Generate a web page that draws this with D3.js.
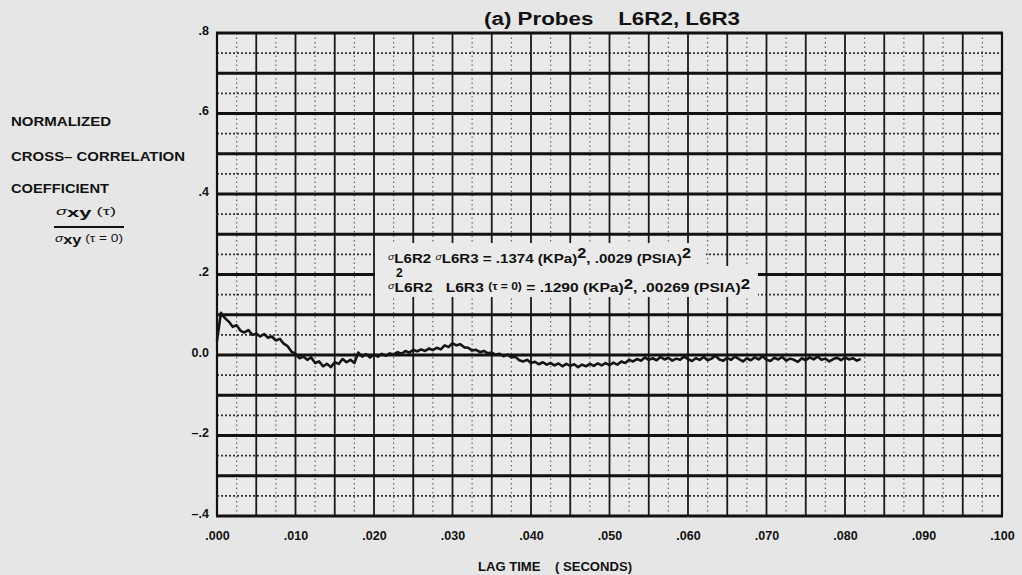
<!DOCTYPE html>
<html>
<head>
<meta charset="utf-8">
<script src="https://cdn.jsdelivr.net/npm/d3@7"></script>
<style>
  html, body { margin: 0; padding: 0; background: #e7e7e7; }
  svg { display: block; }
  text { font-family: "Liberation Sans", Arial, sans-serif; font-weight: bold; fill: #111; }
</style>
</head>
<body>
<svg id="chart" width="1022" height="575"></svg>
<script>
// ---------------- DATA ----------------
const title = "(a) Probes\u00A0\u00A0\u00A0\u00A0L6R2, L6R3";
const xLabel = "LAG TIME\u00A0\u00A0\u00A0\u00A0( SECONDS)";
const yLabelLines = ["NORMALIZED", "CROSS\u2013 CORRELATION", "COEFFICIENT"];

const xTickValues = [0, 0.01, 0.02, 0.03, 0.04, 0.05, 0.06, 0.07, 0.08, 0.09, 0.1];
const xTickLabels = [".000", ".010", ".020", ".030", ".040", ".050", ".060", ".070", ".080", ".090", ".100"];
const yTickValues = [0.8, 0.6, 0.4, 0.2, 0.0, -0.2, -0.4];
const yTickLabels = [".8", ".6", ".4", ".2", "0.0", "\u2013.2", "\u2013.4"];

const lagStep = 0.0005; // seconds between samples
const coefficient = [
  0.035, 0.105, 0.092, 0.083, 0.070, 0.074, 0.060, 0.056, 0.062, 0.050,
  0.053, 0.046, 0.052, 0.043, 0.046, 0.036, 0.040, 0.028, 0.022, 0.008,
  0.003, -0.008, -0.004, -0.012, -0.006, -0.020, -0.016, -0.028, -0.022, -0.030,
  -0.018, -0.022, -0.010, -0.018, -0.012, -0.020, 0.006, -0.004, 0.002, -0.006,
  0.001, -0.004, 0.003, -0.002, 0.004, 0.001, 0.007, 0.003, 0.010, 0.006,
  0.013, 0.009, 0.014, 0.010, 0.016, 0.012, 0.018, 0.014, 0.024, 0.020,
  0.029, 0.024, 0.027, 0.019, 0.018, 0.011, 0.013, 0.007, 0.010, 0.004,
  0.006, 0.001, 0.003, -0.003, 0.001, -0.006, -0.004, -0.013, -0.016, -0.012,
  -0.020, -0.017, -0.023, -0.018, -0.024, -0.020, -0.026, -0.021, -0.028, -0.022,
  -0.027, -0.023, -0.030, -0.024, -0.028, -0.022, -0.027, -0.021, -0.026, -0.020,
  -0.025, -0.019, -0.024, -0.016, -0.020, -0.012, -0.016, -0.010, -0.014, -0.006,
  -0.012, -0.008, -0.013, -0.005, -0.011, -0.007, -0.014, -0.009, -0.012, -0.004,
  -0.010, -0.015, -0.008, -0.012, -0.005, -0.013, -0.009, -0.002, -0.011, -0.014,
  -0.007, -0.012, -0.004, -0.010, -0.016, -0.008, -0.013, -0.006, -0.011, -0.003,
  -0.012, -0.015, -0.007, -0.011, -0.005, -0.014, -0.009, -0.012, -0.017, -0.008,
  -0.013, -0.006, -0.011, -0.004, -0.012, -0.009, -0.016, -0.010, -0.007, -0.013,
  -0.006, -0.011, -0.008, -0.014, -0.010
];

// ---------------- DRAW ----------------
const svg = d3.select("#chart");
const x = d3.scaleLinear().domain([0, 0.1]).range([217, 1002]);
const y = d3.scaleLinear().domain([-0.4, 0.8]).range([516, 33]);

svg.append("rect").attr("width", 1022).attr("height", 575).attr("fill", "#e6e6e6");
svg.append("rect").attr("x", x(0)).attr("y", y(0.8)).attr("width", x(0.1) - x(0)).attr("height", y(-0.4) - y(0.8)).attr("fill", "#eaeaea");

const grid = svg.append("g");
const vMinor = d3.range(0.0025, 0.1, 0.005);
grid.selectAll(".vmin").data(vMinor).join("line")
  .attr("x1", d => x(d)).attr("x2", d => x(d))
  .attr("y1", y(0.8)).attr("y2", y(-0.4))
  .attr("stroke", "#666").attr("stroke-width", 1.2).attr("stroke-dasharray", "1.5,3");
const hMinor = d3.range(-0.35, 0.8, 0.1);
grid.selectAll(".hmin").data(hMinor).join("line")
  .attr("x1", x(0)).attr("x2", x(0.1))
  .attr("y1", d => y(d)).attr("y2", d => y(d))
  .attr("stroke", "#333").attr("stroke-width", 1.8).attr("stroke-dasharray", "2,2");
const vMajor = d3.range(0.005, 0.1, 0.005);
grid.selectAll(".vmaj").data(vMajor).join("line")
  .attr("x1", d => x(d)).attr("x2", d => x(d))
  .attr("y1", y(0.8)).attr("y2", y(-0.4))
  .attr("stroke", "#1a1a1a").attr("stroke-width", 1.8);
const hMajor = d3.range(-0.3, 0.75, 0.1);
grid.selectAll(".hmaj").data(hMajor).join("line")
  .attr("x1", x(0)).attr("x2", x(0.1))
  .attr("y1", d => y(d)).attr("y2", d => y(d))
  .attr("stroke", "#111").attr("stroke-width", 2.8);
grid.append("line").attr("x1", x(0) - 1).attr("x2", x(0.1) + 1).attr("y1", y(0.8)).attr("y2", y(0.8)).attr("stroke", "#111").attr("stroke-width", 3.2);
grid.append("line").attr("x1", x(0) - 1).attr("x2", x(0.1) + 1).attr("y1", y(-0.4)).attr("y2", y(-0.4)).attr("stroke", "#111").attr("stroke-width", 3.2);
grid.append("line").attr("x1", x(0)).attr("x2", x(0)).attr("y1", y(0.8)).attr("y2", y(-0.4)).attr("stroke", "#111").attr("stroke-width", 2.2);
grid.append("line").attr("x1", x(0.1)).attr("x2", x(0.1)).attr("y1", y(0.8)).attr("y2", y(-0.4)).attr("stroke", "#111").attr("stroke-width", 2.2);

// annotation boxes (cover grid)
svg.append("rect").attr("x", 375).attr("y", 243).attr("width", 331).attr("height", 24).attr("fill", "#eaeaea");
svg.append("rect").attr("x", 375).attr("y", 266).attr("width", 383).attr("height", 31).attr("fill", "#eaeaea");

// curve
const lineGen = d3.line()
  .x((d, i) => x(i * lagStep))
  .y(d => y(d))
  .curve(d3.curveLinear);
svg.append("path").datum(coefficient)
  .attr("d", lineGen)
  .attr("fill", "none").attr("stroke", "#141414")
  .attr("stroke-width", 2.6).attr("stroke-linejoin", "round");

// axes
const yAxis = d3.axisLeft(y).tickValues(yTickValues)
  .tickFormat((d, i) => yTickLabels[i]).tickSize(0).tickPadding(0);
const gy = svg.append("g").attr("transform", "translate(209,0)").call(yAxis);
gy.select(".domain").remove();
gy.selectAll("text").attr("font-size", 12.5).attr("font-family", "Liberation Sans").attr("font-weight", "bold").attr("fill", "#111").attr("dy", "0.1em");

const xAxis = d3.axisBottom(x).tickValues(xTickValues)
  .tickFormat((d, i) => xTickLabels[i]).tickSize(0).tickPadding(0);
const gx = svg.append("g").attr("transform", "translate(0,531)").call(xAxis);
gx.select(".domain").remove();
gx.selectAll("text").attr("font-size", 12.5).attr("font-family", "Liberation Sans").attr("font-weight", "bold").attr("fill", "#111");

// title
svg.append("text").attr("x", 612).attr("y", 25).attr("text-anchor", "middle")
  .attr("font-size", 18).attr("textLength", 256).attr("lengthAdjust", "spacingAndGlyphs").text(title);

// x label
svg.append("text").attr("x", 555).attr("y", 571).attr("text-anchor", "middle")
  .attr("font-size", 12).attr("textLength", 154).attr("lengthAdjust", "spacingAndGlyphs").text(xLabel);

// y label lines
const yLab = svg.append("g");
const yLabY = [126, 161, 193];
const yLabW = [100, 174, 98];
yLabelLines.forEach((s, i) => {
  yLab.append("text").attr("x", 11).attr("y", yLabY[i]).attr("font-size", 12.5)
    .attr("textLength", yLabW[i]).attr("lengthAdjust", "spacingAndGlyphs").text(s);
});
// fraction
const num = yLab.append("text").attr("x", 86).attr("y", 215).attr("text-anchor", "middle").attr("font-size", 12)
  .attr("textLength", 60).attr("lengthAdjust", "spacingAndGlyphs");
num.append("tspan").attr("font-size", 10).attr("font-style", "italic").attr("font-weight", "normal").text("\u03C3");
num.append("tspan").attr("dy", 2).attr("font-size", 12).text("xy");
num.append("tspan").attr("dy", -2).attr("font-size", 10).attr("font-weight", "normal").text(" (\u03C4)");
yLab.append("line").attr("x1", 54).attr("x2", 124).attr("y1", 227).attr("y2", 227).attr("stroke", "#111").attr("stroke-width", 1.8);
const den = yLab.append("text").attr("x", 89).attr("y", 242).attr("text-anchor", "middle").attr("font-size", 12)
  .attr("textLength", 68).attr("lengthAdjust", "spacingAndGlyphs");
den.append("tspan").attr("font-size", 10).attr("font-style", "italic").attr("font-weight", "normal").text("\u03C3");
den.append("tspan").attr("dy", 2).attr("font-size", 12).text("xy");
den.append("tspan").attr("dy", -2).attr("font-size", 10).attr("font-weight", "normal").text(" (\u03C4 = 0)");

// annotation text
const a1 = svg.append("text").attr("x", 388).attr("y", 263).attr("font-size", 13)
  .attr("textLength", 303).attr("lengthAdjust", "spacingAndGlyphs");
a1.append("tspan").attr("font-size", 9).attr("dy", -3).attr("font-style", "italic").attr("font-weight", "normal").text("\u03C3");
a1.append("tspan").attr("dy", 3).text("L6R2 ");
a1.append("tspan").attr("font-size", 9).attr("dy", -3).attr("font-style", "italic").attr("font-weight", "normal").text("\u03C3");
a1.append("tspan").attr("dy", 3).text("L6R3 = .1374 (KPa)");
a1.append("tspan").attr("dy", -5).attr("font-size", 14).text("2");
a1.append("tspan").attr("dy", 5).text(", .0029 (PSIA)");
a1.append("tspan").attr("dy", -5).attr("font-size", 14).text("2");

// superscript 2 over the first subscript of line 2
svg.append("text").attr("x", 396).attr("y", 277).attr("font-size", 12).text("2");
const a2 = svg.append("text").attr("x", 388).attr("y", 292).attr("font-size", 13)
  .attr("textLength", 362).attr("lengthAdjust", "spacingAndGlyphs");
a2.append("tspan").attr("font-size", 9).attr("dy", -3).attr("font-style", "italic").attr("font-weight", "normal").text("\u03C3");
a2.append("tspan").attr("dy", 3).text("L6R2\u00A0\u00A0 L6R3 ");
a2.append("tspan").attr("font-size", 10).attr("dy", -2).text("(\u03C4 = 0)");
a2.append("tspan").attr("dy", 2).text(" = .1290 (KPa)");
a2.append("tspan").attr("dy", -3).attr("font-size", 14).text("2");
a2.append("tspan").attr("dy", 3).text(", .00269 (PSIA)");
a2.append("tspan").attr("dy", -3).attr("font-size", 14).text("2");
</script>
</body>
</html>
